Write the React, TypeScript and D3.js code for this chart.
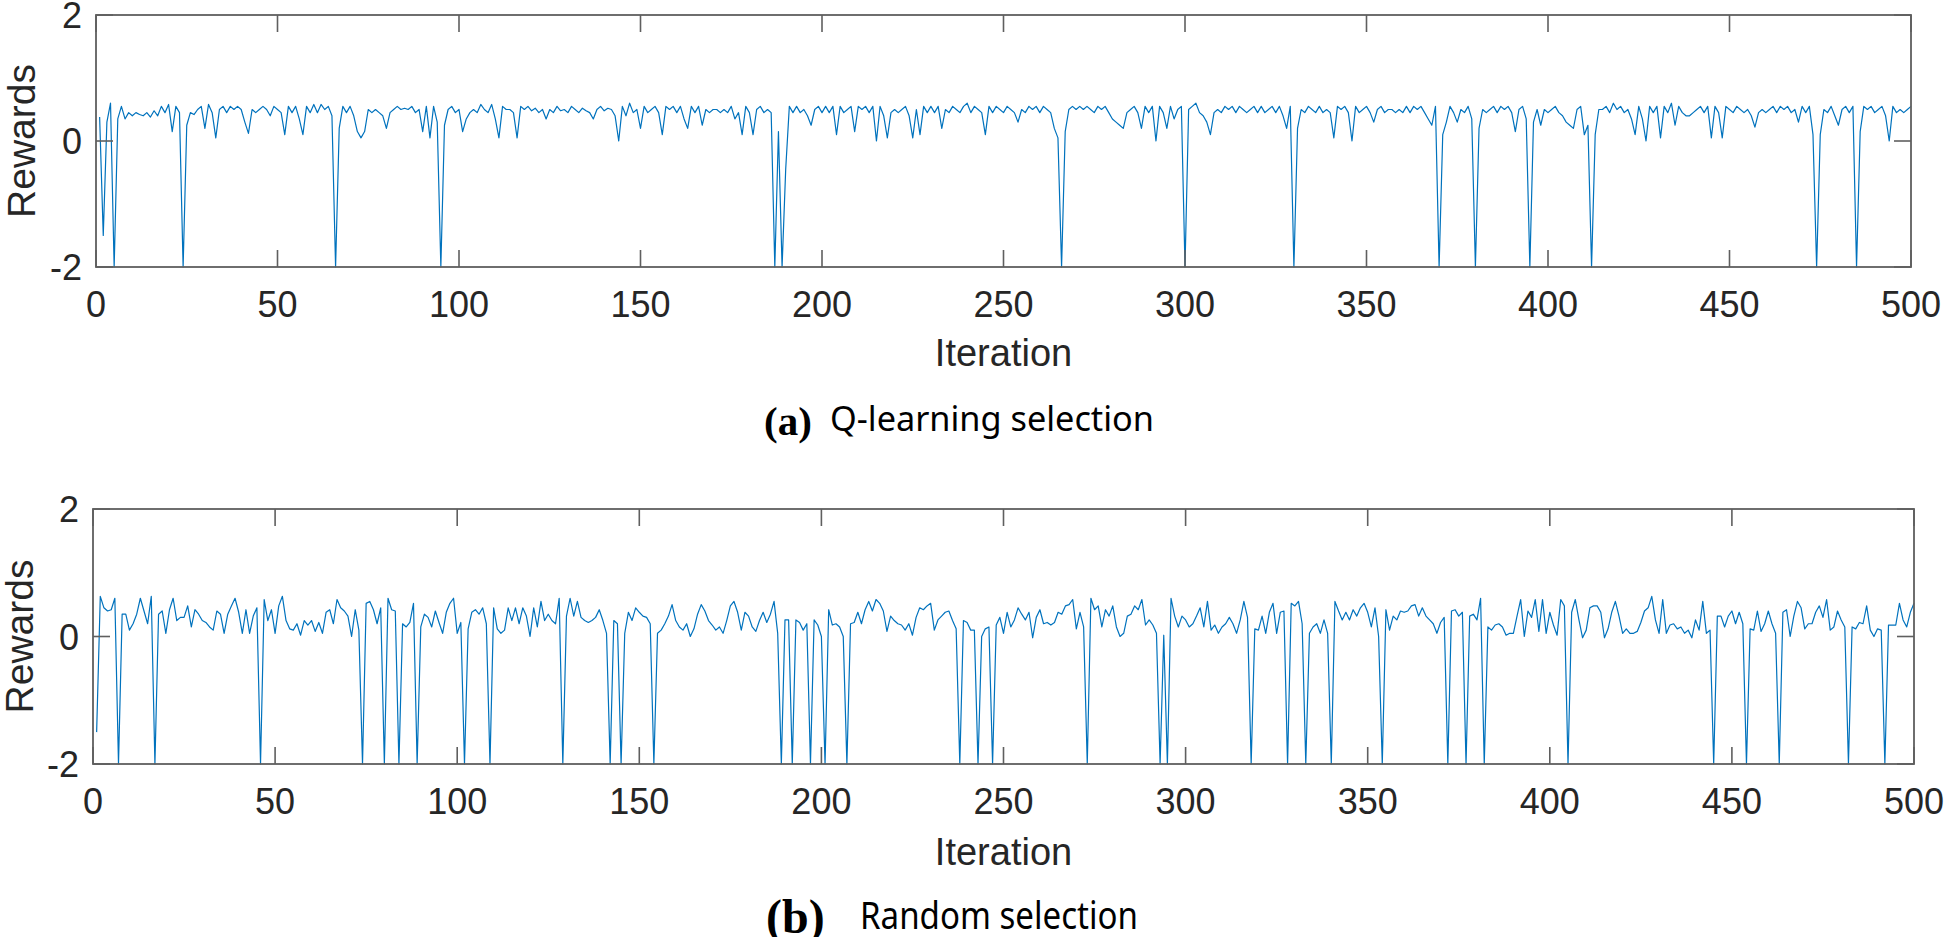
import React, { useEffect, useRef } from 'react';
import * as d3 from 'd3';

// rewards per iteration (1..500)
const qLearningRewards = [
  0.38, -1.5, 0.3, 0.6, -2, 0.35, 0.55, 0.35, 0.45, 0.4,
  0.45, 0.42, 0.4, 0.45, 0.38, 0.48, 0.4, 0.55, 0.45, 0.58,
  0.15, 0.55, 0.45, -2, 0.25, 0.45, 0.42, 0.5, 0.55, 0.2,
  0.58, 0.45, 0.05, 0.5, 0.55, 0.45, 0.55, 0.5, 0.55, 0.5,
  0.3, 0.12, 0.5, 0.45, 0.5, 0.55, 0.5, 0.4, 0.55, 0.5,
  0.45, 0.1, 0.55, 0.45, 0.55, 0.35, 0.1, 0.55, 0.45, 0.58,
  0.45, 0.58, 0.5, 0.55, 0.4, -2, 0.2, 0.55, 0.45, 0.55,
  0.4, 0.15, 0.05, 0.15, 0.5, 0.45, 0.5, 0.45, 0.4, 0.2,
  0.45, 0.5, 0.55, 0.5, 0.52, 0.5, 0.55, 0.45, 0.5, 0.15,
  0.55, 0.05, 0.55, 0.3, -2, 0.25, 0.5, 0.55, 0.45, 0.5,
  0.15, 0.35, 0.45, 0.5, 0.45, 0.58, 0.5, 0.45, 0.58, 0.35,
  0.05, 0.55, 0.5, 0.5, 0.45, 0.05, 0.55, 0.5, 0.55, 0.48,
  0.52, 0.45, 0.5, 0.35, 0.5, 0.45, 0.55, 0.48, 0.5, 0.45,
  0.55, 0.5, 0.45, 0.52, 0.48, 0.45, 0.35, 0.5, 0.55, 0.48,
  0.52, 0.5, 0.4, 0.0, 0.55, 0.4, 0.6, 0.45, 0.5, 0.2,
  0.55, 0.45, 0.5, 0.55, 0.45, 0.1, 0.55, 0.5, 0.55, 0.45,
  0.55, 0.35, 0.2, 0.55, 0.45, 0.55, 0.25, 0.5, 0.45, 0.5,
  0.5, 0.45, 0.5, 0.45, 0.55, 0.35, 0.45, 0.1, 0.55, 0.45,
  0.1, 0.5, 0.55, 0.45, 0.5, 0.45, -2, 0.15, -2, -0.45,
  0.55, 0.45, 0.55, 0.45, 0.5, 0.4, 0.25, 0.5, 0.55, 0.45,
  0.55, 0.45, 0.55, 0.1, 0.55, 0.45, 0.5, 0.55, 0.15, 0.55,
  0.5, 0.55, 0.45, 0.55, 0.0, 0.55, 0.4, 0.05, 0.45, 0.5,
  0.45, 0.5, 0.55, 0.4, 0.05, 0.5, 0.1, 0.55, 0.45, 0.55,
  0.45, 0.55, 0.2, 0.5, 0.45, 0.55, 0.5, 0.45, 0.55, 0.6,
  0.45, 0.55, 0.5, 0.45, 0.1, 0.55, 0.45, 0.55, 0.5, 0.45,
  0.55, 0.5, 0.45, 0.3, 0.5, 0.45, 0.55, 0.5, 0.55, 0.45,
  0.55, 0.5, 0.45, 0.2, 0.05, -2, 0.15, 0.5, 0.55, 0.5,
  0.55, 0.5, 0.55, 0.5, 0.45, 0.55, 0.5, 0.55, 0.45, 0.35,
  0.3, 0.25, 0.2, 0.45, 0.5, 0.55, 0.45, 0.2, 0.55, 0.45,
  0.55, 0.0, 0.55, 0.45, 0.2, 0.55, 0.35, 0.5, 0.55, -2,
  0.5, 0.55, 0.6, 0.45, 0.4, 0.3, 0.1, 0.45, 0.5, 0.45,
  0.55, 0.5, 0.55, 0.45, 0.55, 0.5, 0.45, 0.5, 0.55, 0.45,
  0.55, 0.45, 0.5, 0.55, 0.45, 0.55, 0.4, 0.2, 0.55, -2,
  0.2, 0.5, 0.45, 0.55, 0.5, 0.45, 0.55, 0.45, 0.5, 0.45,
  0.05, 0.55, 0.5, 0.55, 0.45, 0.0, 0.55, 0.45, 0.5, 0.55,
  0.45, 0.3, 0.5, 0.55, 0.45, 0.5, 0.5, 0.45, 0.5, 0.45,
  0.55, 0.45, 0.55, 0.5, 0.55, 0.45, 0.35, 0.25, 0.55, -2,
  0.1, 0.3, 0.55, 0.45, 0.3, 0.5, 0.45, 0.55, 0.35, -2,
  0.2, 0.5, 0.45, 0.5, 0.55, 0.45, 0.55, 0.5, 0.55, 0.45,
  0.15, 0.5, 0.55, 0.35, -2, 0.3, 0.5, 0.25, 0.5, 0.45,
  0.5, 0.55, 0.45, 0.4, 0.3, 0.25, 0.2, 0.5, 0.55, 0.1,
  0.25, -2, 0.1, 0.5, 0.5, 0.55, 0.45, 0.6, 0.5, 0.55,
  0.45, 0.5, 0.35, 0.1, 0.55, 0.35, 0.0, 0.55, 0.45, 0.55,
  0.05, 0.55, 0.45, 0.6, 0.25, 0.55, 0.45, 0.4, 0.4, 0.45,
  0.5, 0.55, 0.45, 0.55, 0.05, 0.55, 0.45, 0.05, 0.55, 0.5,
  0.45, 0.55, 0.5, 0.45, 0.5, 0.4, 0.22, 0.45, 0.5, 0.45,
  0.5, 0.55, 0.45, 0.55, 0.5, 0.55, 0.45, 0.5, 0.3, 0.55,
  0.45, 0.55, 0.1, -2, 0.1, 0.5, 0.45, 0.55, 0.4, 0.25,
  0.5, 0.55, 0.45, 0.55, -2, 0.15, 0.55, 0.5, 0.55, 0.45,
  0.5, 0.55, 0.4, 0.0, 0.55, 0.45, 0.5, 0.45, 0.5, 0.55,
];

const randomRewards = [
  -1.5, 0.63, 0.45, 0.4, 0.42, 0.6, -2, 0.35, 0.35, 0.1,
  0.2, 0.35, 0.6, 0.4, 0.2, 0.63, -2, 0.35, 0.4, 0.05,
  0.42, 0.6, 0.25, 0.3, 0.3, 0.48, 0.15, 0.42, 0.35, 0.25,
  0.22, 0.15, 0.1, 0.4, 0.35, 0.05, 0.35, 0.48, 0.6, 0.38,
  0.05, 0.42, 0.05, 0.32, 0.45, -2, 0.58, 0.25, 0.42, 0.05,
  0.48, 0.63, 0.25, 0.12, 0.1, 0.2, 0.02, 0.25, 0.18, 0.25,
  0.08, 0.22, 0.05, 0.38, 0.42, 0.2, 0.58, 0.45, 0.4, 0.32,
  0.0, 0.42, 0.1, -2, 0.52, 0.55, 0.42, 0.2, 0.45, -2,
  0.6, 0.42, 0.4, -2, 0.2, 0.15, 0.22, 0.52, -2, 0.15,
  0.35, 0.3, 0.15, 0.4, 0.22, 0.05, 0.38, 0.52, 0.6, 0.05,
  0.22, -2, 0.12, 0.38, 0.42, 0.35, 0.45, 0.2, -2, 0.45,
  0.12, 0.05, 0.1, 0.45, 0.25, 0.45, 0.2, 0.45, 0.32, 0.0,
  0.45, 0.15, 0.55, 0.25, 0.35, 0.25, 0.2, 0.6, -2, 0.32,
  0.6, 0.32, 0.55, 0.3, 0.25, 0.22, 0.25, 0.3, 0.42, 0.25,
  0.05, -2, 0.25, 0.2, -2, 0.05, 0.38, 0.25, 0.45, 0.38,
  0.32, 0.3, 0.2, -2, 0.05, 0.1, 0.2, 0.32, 0.5, 0.25,
  0.15, 0.1, 0.2, 0.0, 0.12, 0.35, 0.5, 0.4, 0.25, 0.18,
  0.1, 0.15, 0.05, 0.25, 0.48, 0.55, 0.38, 0.1, 0.38, 0.32,
  0.15, 0.08, 0.25, 0.38, 0.22, 0.35, 0.55, 0.05, -2, 0.26,
  0.26, -2, 0.26, 0.22, 0.1, 0.2, -2, 0.26, 0.18, 0.0,
  -2, 0.42, 0.18, 0.2, 0.15, 0.0, -2, 0.2, 0.22, 0.38,
  0.2, 0.42, 0.55, 0.4, 0.58, 0.52, 0.4, 0.08, 0.32, 0.25,
  0.2, 0.18, 0.1, 0.2, 0.02, 0.3, 0.45, 0.42, 0.48, 0.52,
  0.1, 0.26, 0.32, 0.38, 0.4, 0.25, 0.12, -2, 0.25, 0.22,
  0.1, 0.1, -2, 0.0, 0.12, 0.15, -2, 0.18, 0.3, 0.05,
  0.38, 0.15, 0.26, 0.45, 0.35, 0.26, 0.38, -0.02, 0.3, 0.42,
  0.2, 0.22, 0.18, 0.22, 0.38, 0.35, 0.48, 0.5, 0.58, 0.12,
  0.38, 0.15, -2, 0.6, 0.42, 0.48, 0.15, 0.42, 0.32, 0.48,
  0.15, 0.0, 0.05, 0.32, 0.35, 0.48, 0.42, 0.58, 0.18, 0.26,
  0.18, 0.05, -2, 0.02, -2, 0.6, 0.32, 0.15, 0.32, 0.26,
  0.15, 0.2, 0.32, 0.45, 0.15, 0.55, 0.1, 0.18, 0.05, 0.15,
  0.2, 0.3, 0.2, 0.05, 0.26, 0.55, 0.3, -2, 0.12, 0.1,
  0.32, 0.05, 0.38, 0.52, 0.05, 0.38, 0.4, -2, 0.52, 0.48,
  0.55, 0.2, -2, 0.05, 0.15, 0.2, 0.05, 0.26, 0.05, -2,
  0.55, 0.4, 0.26, 0.38, 0.26, 0.42, 0.32, 0.45, 0.52, 0.38,
  0.15, 0.45, 0.0, -2, 0.42, 0.1, 0.32, 0.26, 0.4, 0.38,
  0.4, 0.48, 0.5, 0.32, 0.45, 0.32, 0.26, 0.2, 0.05, 0.22,
  0.3, -2, 0.4, 0.42, 0.32, 0.38, -2, 0.32, 0.35, 0.26,
  0.6, -2, 0.15, 0.1, 0.18, 0.2, 0.15, 0.02, 0.05, 0.05,
  0.32, 0.58, 0.0, 0.4, 0.3, 0.58, 0.08, 0.58, 0.05, 0.38,
  0.18, 0.02, 0.58, 0.48, -2, 0.38, 0.58, 0.26, -0.02, 0.1,
  0.45, 0.48, 0.48, 0.38, -0.02, 0.12, 0.38, 0.55, 0.32, 0.05,
  0.12, 0.05, 0.05, 0.08, 0.22, 0.4, 0.45, 0.63, 0.26, 0.05,
  0.58, 0.05, 0.18, 0.2, 0.12, 0.15, 0.05, 0.1, -0.02, 0.26,
  0.1, 0.55, 0.05, 0.1, -2, 0.32, 0.32, 0.15, 0.32, 0.4,
  0.2, 0.38, 0.2, -2, 0.12, 0.1, 0.4, 0.08, 0.2, 0.4,
  0.2, 0.05, -2, 0.38, 0.42, 0.0, 0.32, 0.55, 0.45, 0.12,
  0.2, 0.2, 0.38, 0.48, 0.3, 0.58, 0.1, 0.15, 0.4, 0.26,
  0.15, -2, 0.15, 0.12, 0.22, 0.2, 0.48, 0.1, 0.0, 0.12,
  0.1, -2, 0.18, 0.18, 0.18, 0.52, 0.26, 0.15, 0.38, 0.52,
];

const xTicks = [0, 50, 100, 150, 200, 250, 300, 350, 400, 450, 500];
const yTicks = [-2, 0, 2];

const W = 1946;
const H = 937;
const sansFont = '"Liberation Sans", Arial, Helvetica, sans-serif';

interface Panel {
  values: number[];
  left: number;
  right: number;
  top: number;
  bottom: number;
  yLabelX: number;
  xLabelY: number;
  tag: string;
  tagX: number;
  tagSize: number;
  caption: string;
  captionX: number;
  captionLen: number;
  captionSize: number;
  captionY: number;
}

const panels: Panel[] = [
  {
    values: qLearningRewards, left: 96, right: 1911, top: 15, bottom: 267,
    yLabelX: 35, xLabelY: 366,
    tag: '(a)', tagX: 764, tagSize: 41, caption: 'Q-learning selection',
    captionX: 830, captionLen: 324, captionSize: 35, captionY: 431,
  },
  {
    values: randomRewards, left: 93, right: 1914, top: 509, bottom: 764,
    yLabelX: 33, xLabelY: 865,
    tag: '(b)', tagX: 766, tagSize: 48, caption: 'Random selection',
    captionX: 860, captionLen: 278, captionSize: 38, captionY: 929,
  },
];

const App: React.FC = () => {
  const svgRef = useRef<SVGSVGElement>(null);

  useEffect(() => {
    if (!svgRef.current) return;
    const svg = d3.select(svgRef.current);
    svg.selectAll('*').remove();

    svg.append('rect').attr('width', W).attr('height', H).attr('fill', '#fff');

    panels.forEach(p => {
      const x = d3.scaleLinear().domain([0, 500]).range([p.left, p.right]);
      const y = d3.scaleLinear().domain([-2, 2]).range([p.bottom, p.top]);
      const g = svg.append('g');

      const line = d3.line<number>()
        .x((_, i) => x(i + 1))
        .y(d => y(d));

      g.append('path')
        .datum(p.values)
        .attr('d', line)
        .attr('fill', 'none')
        .attr('stroke', '#0072BD')
        .attr('stroke-width', 1.2)
        .attr('stroke-linejoin', 'round');

      const axisColor = '#5f5f5f';
      const tickLen = 17;

      // ticks on all four sides, pointing inward
      xTicks.forEach(t => {
        g.append('line')
          .attr('x1', x(t)).attr('x2', x(t))
          .attr('y1', p.bottom).attr('y2', p.bottom - tickLen)
          .attr('stroke', axisColor).attr('stroke-width', 1.6);
        g.append('line')
          .attr('x1', x(t)).attr('x2', x(t))
          .attr('y1', p.top).attr('y2', p.top + tickLen)
          .attr('stroke', axisColor).attr('stroke-width', 1.6);
        g.append('text')
          .attr('x', x(t)).attr('y', p.bottom + 50)
          .attr('text-anchor', 'middle')
          .attr('font-family', sansFont).attr('font-size', 36)
          .attr('fill', '#262626')
          .text(t);
      });

      yTicks.forEach(t => {
        g.append('line')
          .attr('x1', p.left).attr('x2', p.left + tickLen)
          .attr('y1', y(t)).attr('y2', y(t))
          .attr('stroke', axisColor).attr('stroke-width', 1.6);
        g.append('line')
          .attr('x1', p.right).attr('x2', p.right - tickLen)
          .attr('y1', y(t)).attr('y2', y(t))
          .attr('stroke', axisColor).attr('stroke-width', 1.6);
        g.append('text')
          .attr('x', p.left - 14).attr('y', y(t) + 13)
          .attr('text-anchor', 'end')
          .attr('font-family', sansFont).attr('font-size', 36)
          .attr('fill', '#262626')
          .text(t);
      });

      g.append('rect')
        .attr('x', p.left).attr('y', p.top)
        .attr('width', p.right - p.left).attr('height', p.bottom - p.top)
        .attr('fill', 'none')
        .attr('stroke', axisColor).attr('stroke-width', 1.8);

      g.append('text')
        .attr('transform', `translate(${p.yLabelX}, ${(p.top + p.bottom) / 2}) rotate(-90)`)
        .attr('text-anchor', 'middle')
        .attr('font-family', sansFont).attr('font-size', 39)
        .attr('fill', '#262626')
        .text('Rewards');

      g.append('text')
        .attr('x', (p.left + p.right) / 2).attr('y', p.xLabelY)
        .attr('text-anchor', 'middle')
        .attr('font-family', sansFont).attr('font-size', 38)
        .attr('fill', '#262626')
        .text('Iteration');

      g.append('text')
        .attr('x', p.tagX).attr('y', p.captionY + 4)
        .attr('font-family', '"Liberation Serif", "Times New Roman", serif')
        .attr('font-weight', 'bold').attr('font-size', p.tagSize)
        .attr('fill', '#000')
        .text(p.tag);

      g.append('text')
        .attr('x', p.captionX).attr('y', p.captionY)
        .attr('font-family', '"Noto Sans", "Noto Sans CJK KR", sans-serif')
        .attr('font-size', p.captionSize)
        .attr('textLength', p.captionLen)
        .attr('lengthAdjust', 'spacingAndGlyphs')
        .attr('fill', '#000')
        .text(p.caption);
    });
  }, []);

  return (
    <svg
      ref={svgRef}
      width={W}
      height={H}
      style={{ position: 'absolute', left: 0, top: 0, display: 'block' }}
    />
  );
};

export default App;
